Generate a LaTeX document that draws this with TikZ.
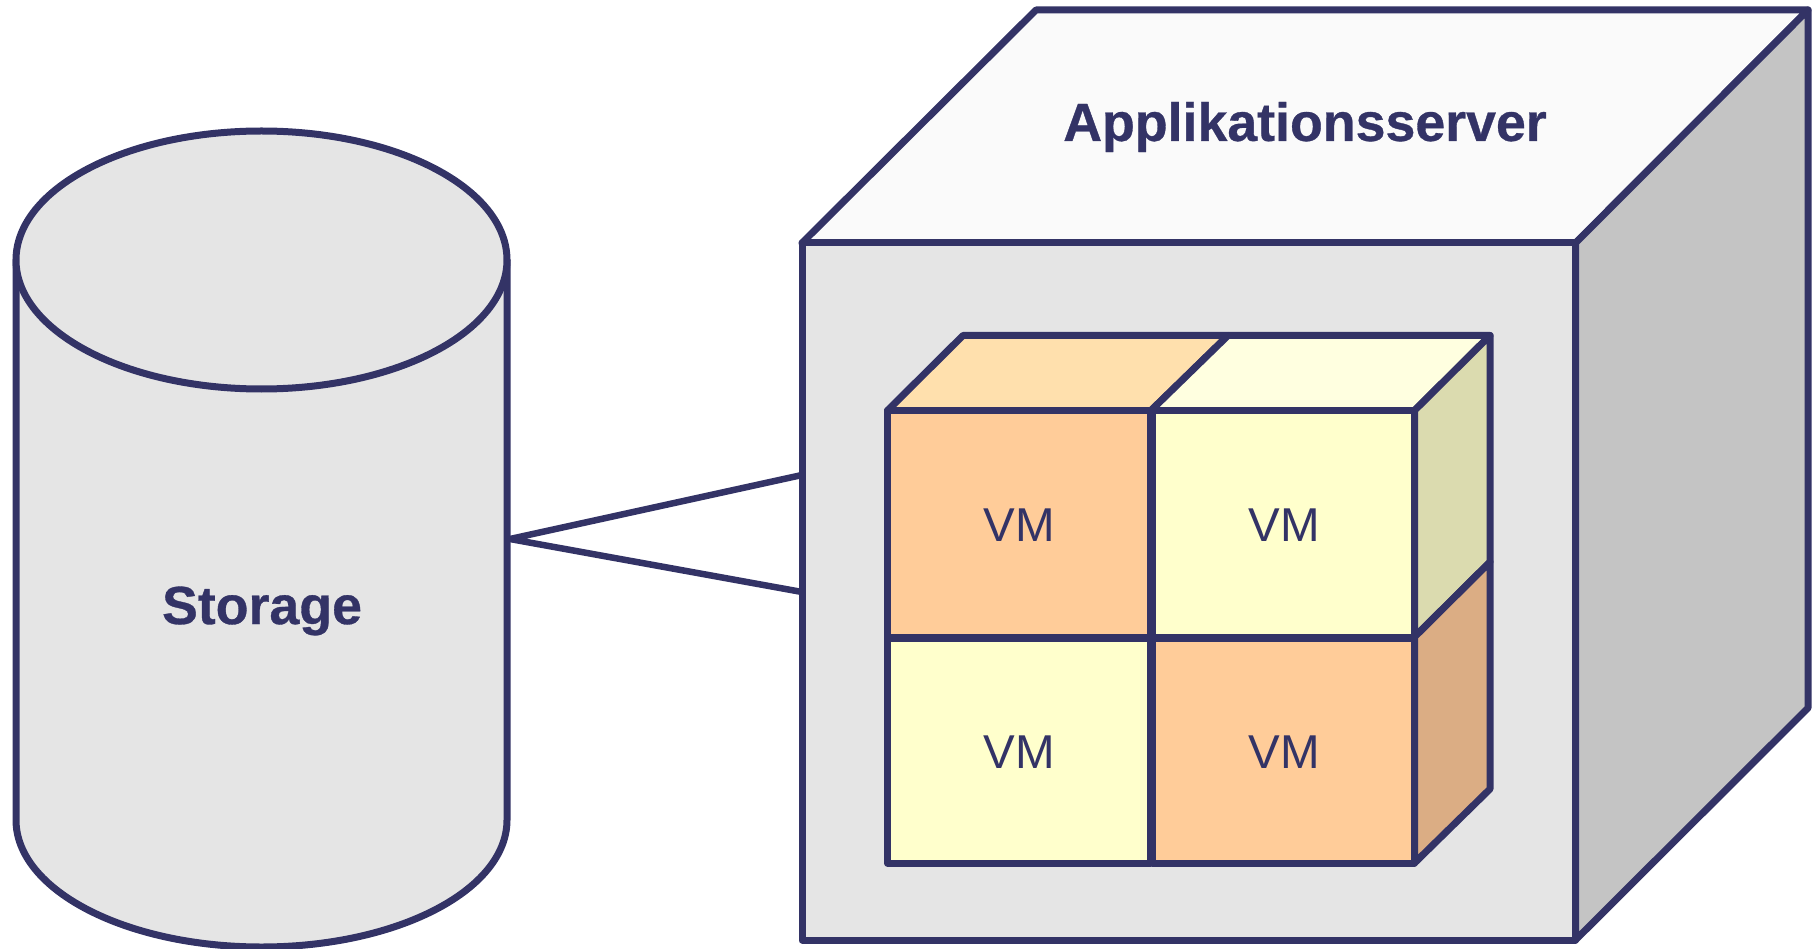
\documentclass[tikz,border=0pt]{standalone}
\usepackage{fontspec}
\setmainfont[BoldFeatures={FakeBold=0.6}]{Liberation Sans}
\definecolor{ln}{HTML}{333366}
\definecolor{grayf}{HTML}{E5E5E5}
\definecolor{topf}{HTML}{FAFAFA}
\definecolor{sidef}{HTML}{C4C4C4}
\definecolor{org}{HTML}{FFCC99}
\definecolor{orgt}{HTML}{FFE0AD}
\definecolor{orgs}{HTML}{DBAD84}
\definecolor{yel}{HTML}{FFFFCC}
\definecolor{yelt}{HTML}{FFFFE0}
\definecolor{yels}{HTML}{DBDBAF}
\tikzset{x=1pt,y=-1pt,
 face/.style={draw=ln,line width=7pt,line join=round,line cap=round},
 lbl/.style={text=ln,font=\fontsize{47.5}{47.5}\selectfont},
 blbl/.style={text=ln,font=\fontsize{53.7}{53.7}\selectfont\bfseries}}
\begin{document}
\begin{tikzpicture}
\useasboundingbox (0,0) rectangle (1812,949);
% cylinder
\path[face,fill=grayf] (16,260) -- (16,820) arc[start angle=180,end angle=360,x radius=245.5,y radius=-127] -- (507,260) -- cycle;
\path[face,fill=grayf] (261.5,260) ellipse[x radius=245.5,y radius=129];
\node[blbl] (storage) at (262,611) {Storage};
\coordinate (cyl) at (510,539);
% server
\path[face,fill=topf] (802,243) -- (1036,10) -- (1808,10) -- (1575.5,243) -- cycle;
\path[face,fill=sidef] (1575.5,243) -- (1808,10) -- (1808,708) -- (1575.5,940) -- cycle;
\path[face,fill=grayf] (802,243) rectangle (1575.5,940);
\node[blbl] (srv) at (1305,127) {Applikationsserver};
\coordinate (p1) at (802,475);
\coordinate (p2) at (802,592);
\draw[ln,line width=6.5pt,line join=round] (p1) -- (cyl) -- (p2);
% VM tops and sides
\path[face,fill=orgt] (887.5,410.5) -- (963,335.5) -- (1228,335.5) -- (1151,410.5) -- cycle;
\path[face,fill=yelt] (1151,410.5) -- (1228,335.5) -- (1490,335.5) -- (1414.5,410.5) -- cycle;
\path[face,fill=yels] (1414.5,410.5) -- (1490,335.5) -- (1490,562) -- (1414.5,637) -- cycle;
\path[face,fill=orgs] (1414.5,637) -- (1490,562) -- (1490,789) -- (1414.5,863) -- cycle;
\path[face,fill=org] (887.5,410.5) rectangle (1150,637);
\path[face,fill=yel] (1152,410.5) rectangle (1414.5,637);
\path[face,fill=yel] (887.5,638) rectangle (1150,863);
\path[face,fill=org] (1152,638) rectangle (1414.5,863);
\node[lbl] (vm1) at (1019,525) {VM};
\node[lbl] (vm2) at (1284,525) {VM};
\node[lbl] (vm3) at (1019,752) {VM};
\node[lbl] (vm4) at (1284,752) {VM};
\end{tikzpicture}
\end{document}
